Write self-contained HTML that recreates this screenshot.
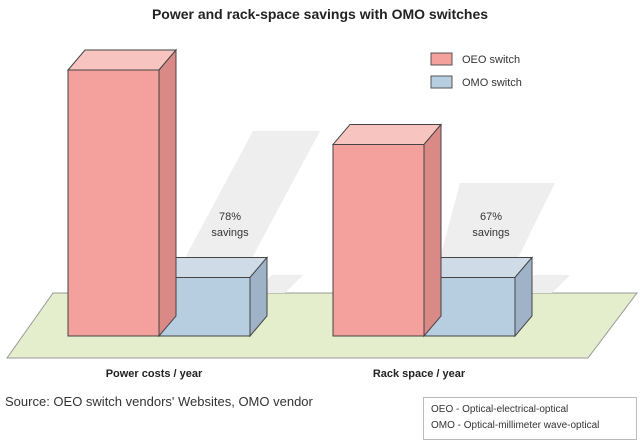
<!DOCTYPE html>
<html><head><meta charset="utf-8"><style>
body{margin:0;background:#fff;width:640px;height:441px;overflow:hidden}
svg{display:block;font-family:"Liberation Sans",sans-serif}
</style></head><body>
<svg id="c" width="640" height="441">
<text x="320" y="19" text-anchor="middle" font-size="14" font-weight="bold" fill="#222">Power and rack-space savings with OMO switches</text>
<polygon points="53,293 637,293 588,358 7,358" fill="#e4edcc" stroke="#999" stroke-width="1"/>
<polygon points="253,131 320,131 252,258 185,258" fill="#eeeeee"/>
<polygon points="272,275 303,275 285,293 254,293" fill="#eeeeee"/>
<polygon points="460,183 555,183 518,258 440,258" fill="#eeeeee"/>
<polygon points="534,275 570,275 552,293 518,293" fill="#eeeeee"/>
<g id="bars"></g>
<text x="230" y="220" text-anchor="middle" font-size="11" fill="#333">78%</text>
<text x="230" y="236" text-anchor="middle" font-size="11" fill="#333">savings</text>
<text x="491" y="220" text-anchor="middle" font-size="11" fill="#333">67%</text>
<text x="491" y="236" text-anchor="middle" font-size="11" fill="#333">savings</text>
<g>
<rect x="431" y="53" width="21" height="12" fill="#f4a09c" stroke="#555"/>
<text x="462" y="63" font-size="11" fill="#333">OEO switch</text>
<rect x="431" y="76" width="21" height="12" fill="#b7cde0" stroke="#555"/>
<text x="462" y="86" font-size="11" fill="#333">OMO switch</text>
</g>
<g id="cats"></g>
<text x="5" y="406" font-size="13" fill="#333">Source: OEO switch vendors' Websites, OMO vendor</text>
<rect x="423.5" y="397.5" width="213" height="42" fill="#fff" stroke="#bbb"/>
<text x="431" y="412" font-size="10" fill="#333">OEO - Optical-electrical-optical</text>
<text x="431" y="428" font-size="10" fill="#333">OMO - Optical-millimeter wave-optical</text>
</svg>
<script>
const categories = ["Power costs / year", "Rack space / year"];
const oeoValues = [100, 72];
const omoValues = [22, 22];
const NS = "http://www.w3.org/2000/svg";
const baseY = 336, scale = 2.66, groupX = [68, 333], barW = 91, dx = 17, dy = 20;
function yOf(v){ return baseY - v * scale; }
const g = document.getElementById('bars');
function poly(pts, fill, name){
  const p = document.createElementNS(NS, 'polygon');
  p.setAttribute('points', pts.map(a => a.join(',')).join(' '));
  p.setAttribute('fill', fill);
  p.setAttribute('stroke', '#444');
  p.setAttribute('stroke-width', '1');
  
  
  g.appendChild(p);
}
function bar(x, v, front, top, side, name){
  const y = yOf(v), x2 = x + barW;
  poly([[x, y], [x + dx, y - dy], [x2 + dx, y - dy], [x2, y]], top, name + '-top');
  poly([[x2, y], [x2 + dx, y - dy], [x2 + dx, baseY - dy], [x2, baseY]], side, name + '-side');
  poly([[x, y], [x2, y], [x2, baseY], [x, baseY]], front, name);
}
const cg = document.getElementById('cats');
categories.forEach((c, i) => {
  bar(groupX[i] + barW, omoValues[i], '#b7cde0', '#cfdbe6', '#9fb3c8', 'bar-omo-' + i);
  bar(groupX[i], oeoValues[i], '#f4a09c', '#f8c4c0', '#d98a86', 'bar-oeo-' + i);
  const t = document.createElementNS(NS, 'text');
  t.setAttribute('x', groupX[i] + barW - 5);
  t.setAttribute('y', 377);
  t.setAttribute('text-anchor', 'middle');
  t.setAttribute('font-size', '11');
  t.setAttribute('font-weight', 'bold');
  t.setAttribute('fill', '#222');
  
  
  t.textContent = c;
  cg.appendChild(t);
});
</script>
</body></html>
